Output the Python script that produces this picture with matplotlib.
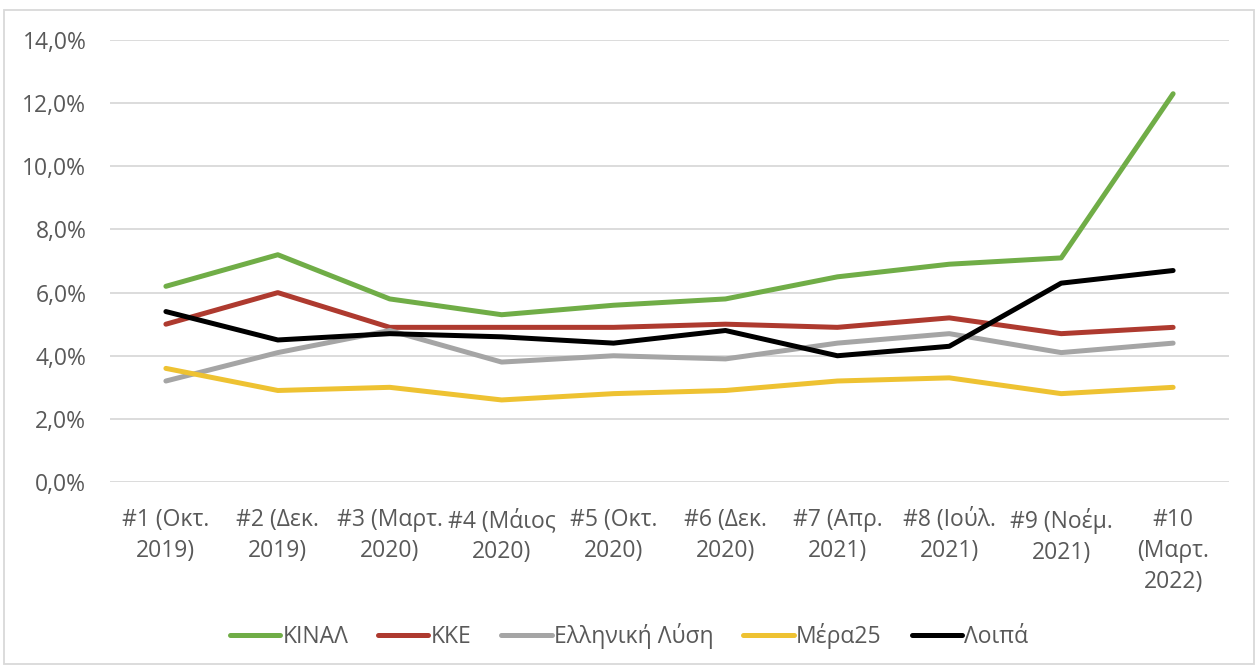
#!/bin/env python3

import matplotlib.pyplot as plt
from matplotlib.patches import Rectangle
from matplotlib.ticker import FuncFormatter

waves = ['#1 (Οκτ.\n2019)', '#2 (Δεκ.\n2019)', '#3 (Μαρτ.\n2020)', '#4 (Μάιος\n2020)',
         '#5 (Οκτ.\n2020)', '#6 (Δεκ.\n2020)', '#7 (Απρ.\n2021)', '#8 (Ιούλ.\n2021)',
         '#9 (Νοέμ.\n2021)', '#10\n(Μαρτ.\n2022)']

kinal = [6.2, 7.2, 5.8, 5.3, 5.6, 5.8, 6.5, 6.9, 7.1, 12.3]
kke = [5.0, 6.0, 4.9, 4.9, 4.9, 5.0, 4.9, 5.2, 4.7, 4.9]
el_lysi = [3.2, 4.1, 4.8, 3.8, 4.0, 3.9, 4.4, 4.7, 4.1, 4.4]
mera25 = [3.6, 2.9, 3.0, 2.6, 2.8, 2.9, 3.2, 3.3, 2.8, 3.0]
loipa = [5.4, 4.5, 4.7, 4.6, 4.4, 4.8, 4.0, 4.3, 6.3, 6.7]

series = [
    ('ΚΙΝΑΛ', kinal, '#70AD47'),
    ('ΚΚΕ', kke, '#AE3A2F'),
    ('Ελληνική Λύση', el_lysi, '#A5A5A5'),
    ('Μέρα25', mera25, '#EEC232'),
    ('Λοιπά', loipa, '#000000'),
]


def main():
    plt.rcParams['font.family'] = ['Open Sans', 'DejaVu Sans']
    text_col = '#595959'

    fig = plt.figure(figsize=(12.58, 6.68), dpi=100)
    ax = fig.add_axes([0.0874, 0.2784, 0.8896, 0.6616])

    x = range(len(waves))
    for name, vals, col in series:
        ax.plot(x, vals, color=col, lw=3.6, label=name, solid_capstyle='round',
                solid_joinstyle='round')

    ax.set_ylim(0, 14)
    ax.set_yticks(range(0, 15, 2))
    ax.yaxis.set_major_formatter(FuncFormatter(lambda v, p: f'{v:.1f}%'.replace('.', ',')))
    ax.set_xlim(-0.5, len(waves) - 0.5)
    ax.set_xticks(list(x))
    ax.set_xticklabels(waves, linespacing=1.38)

    ax.grid(axis='y', color='#D9D9D9', lw=1.3)
    ax.set_axisbelow(True)
    for s in ax.spines.values():
        s.set_visible(False)
    ax.tick_params(length=0, labelsize=16.5, colors=text_col)
    ax.tick_params(axis='x', pad=19)
    ax.tick_params(axis='y', pad=17)

    leg = fig.legend(loc='center', bbox_to_anchor=(0.5, 0.048), ncol=5, frameon=False,
                     fontsize=16.5, handlelength=2.2, columnspacing=1.3, handletextpad=0.1)
    for t in leg.get_texts():
        t.set_color(text_col)

    fig.patches.append(Rectangle((0.003, 0.006), 0.994, 0.979, transform=fig.transFigure,
                                 fill=False, edgecolor='#D9D9D9', lw=1.3))

    fig.savefig('out.png', dpi=100)


if __name__ == '__main__':
    main()
